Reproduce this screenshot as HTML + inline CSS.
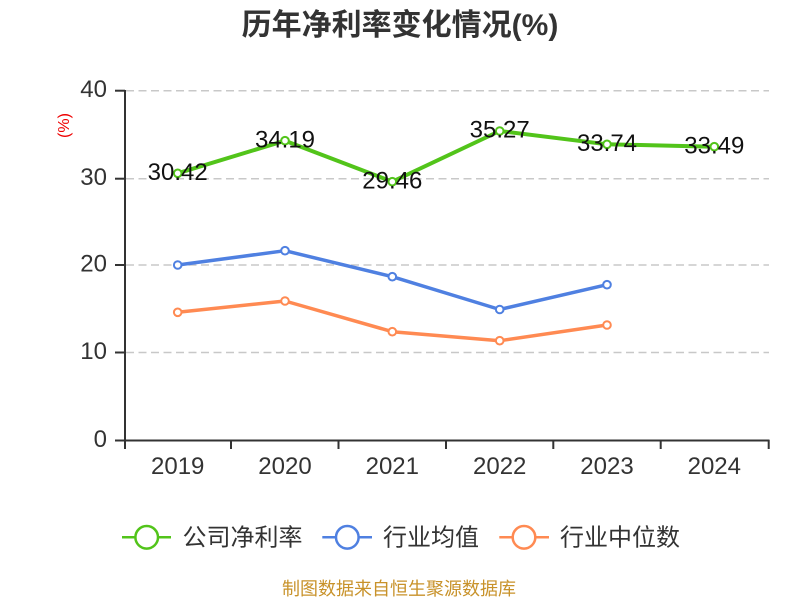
<!DOCTYPE html>
<html>
<head>
<meta charset="utf-8">
<style>
html,body{margin:0;padding:0;background:#fff;}
svg{display:block;}
text{font-family:"Liberation Sans","Noto Sans CJK SC",sans-serif;}
</style>
</head>
<body>
<svg width="800" height="600" viewBox="0 0 800 600" xmlns="http://www.w3.org/2000/svg">
  <rect width="800" height="600" fill="#fff"/>
  <!-- title -->
  <text x="400" y="35" text-anchor="middle" font-size="30" font-weight="bold" fill="#333">历年净利率变化情况(%)</text>
  <!-- y label -->
  <text x="0" y="0" transform="translate(69,125.5) rotate(-90)" text-anchor="middle" font-size="16" fill="#e00">(%)</text>

  <!-- grid -->
  <g stroke="#c8c8c8" stroke-width="1.5" stroke-dasharray="8,4.5">
    <line x1="126" y1="90.7" x2="769" y2="90.7"/>
    <line x1="126" y1="178.7" x2="769" y2="178.7"/>
    <line x1="126" y1="265" x2="769" y2="265"/>
    <line x1="126" y1="352.5" x2="769" y2="352.5"/>
  </g>

  <!-- axes -->
  <g stroke="#333" stroke-width="2" fill="none">
    <line x1="125" y1="90" x2="125" y2="441"/>
    <line x1="124" y1="440.5" x2="769.5" y2="440.5"/>
    <line x1="115" y1="90.7" x2="125" y2="90.7"/>
    <line x1="115" y1="178.7" x2="125" y2="178.7"/>
    <line x1="115" y1="265" x2="125" y2="265"/>
    <line x1="115" y1="352.5" x2="125" y2="352.5"/>
    <line x1="115" y1="440.5" x2="125" y2="440.5"/>
    <line x1="125" y1="440" x2="125" y2="449"/>
    <line x1="231" y1="440" x2="231" y2="449"/>
    <line x1="338.5" y1="440" x2="338.5" y2="449"/>
    <line x1="446" y1="440" x2="446" y2="449"/>
    <line x1="553.3" y1="440" x2="553.3" y2="449"/>
    <line x1="660.7" y1="440" x2="660.7" y2="449"/>
    <line x1="768.7" y1="440" x2="768.7" y2="449"/>
  </g>

  <!-- y tick labels -->
  <g font-size="24" fill="#333" text-anchor="end">
    <text x="107" y="97">40</text>
    <text x="107" y="185">30</text>
    <text x="107" y="271.5">20</text>
    <text x="107" y="359">10</text>
    <text x="107" y="447">0</text>
  </g>
  <!-- x tick labels -->
  <g font-size="24" fill="#333" text-anchor="middle">
    <text x="177.7" y="474">2019</text>
    <text x="285" y="474">2020</text>
    <text x="392.3" y="474">2021</text>
    <text x="499.7" y="474">2022</text>
    <text x="607" y="474">2023</text>
    <text x="714.3" y="474">2024</text>
  </g>

  <!-- orange series -->
  <polyline fill="none" stroke="#ff8a52" stroke-width="3.5" stroke-linejoin="round"
    points="177.7,312.3 285,301 392.3,331.7 499.7,340.7 607,325"/>
  <g fill="#fff" stroke="#ff8a52" stroke-width="2">
    <circle cx="177.7" cy="312.3" r="3.8"/>
    <circle cx="285" cy="301" r="3.8"/>
    <circle cx="392.3" cy="331.7" r="3.8"/>
    <circle cx="499.7" cy="340.7" r="3.8"/>
    <circle cx="607" cy="325" r="3.8"/>
  </g>

  <!-- blue series -->
  <polyline fill="none" stroke="#4f80e1" stroke-width="3.5" stroke-linejoin="round"
    points="177.7,265 285,250.7 392.3,276.7 499.7,309.5 607,284.7"/>
  <g fill="#fff" stroke="#4f80e1" stroke-width="2">
    <circle cx="177.7" cy="265" r="3.8"/>
    <circle cx="285" cy="250.7" r="3.8"/>
    <circle cx="392.3" cy="276.7" r="3.8"/>
    <circle cx="499.7" cy="309.5" r="3.8"/>
    <circle cx="607" cy="284.7" r="3.8"/>
  </g>

  <!-- green series -->
  <polyline fill="none" stroke="#52c41a" stroke-width="4" stroke-linejoin="round"
    points="177.7,173.3 285,140.7 392.3,181.7 499.7,131 607,144.3 714.3,146.7"/>
  <g fill="#fff" stroke="#52c41a" stroke-width="2">
    <circle cx="177.7" cy="173.3" r="3.8"/>
    <circle cx="285" cy="140.7" r="3.8"/>
    <circle cx="392.3" cy="181.7" r="3.8"/>
    <circle cx="499.7" cy="131" r="3.8"/>
    <circle cx="607" cy="144.3" r="3.8"/>
    <circle cx="714.3" cy="146.7" r="3.8"/>
  </g>
  <g font-size="24" fill="#111" text-anchor="middle">
    <text x="177.7" y="180">30.42</text>
    <text x="285" y="147.4">34.19</text>
    <text x="392.3" y="188.4">29.46</text>
    <text x="499.7" y="137.7">35.27</text>
    <text x="607" y="151">33.74</text>
    <text x="714.3" y="153.4">33.49</text>
  </g>

  <!-- legend -->
  <g stroke-width="2.5" fill="#fff">
    <line x1="122" y1="537.3" x2="171" y2="537.3" stroke="#52c41a"/>
    <circle cx="146.7" cy="537.3" r="11.3" stroke="#52c41a"/>
    <line x1="322.3" y1="537.3" x2="372" y2="537.3" stroke="#4f80e1"/>
    <circle cx="347.3" cy="537.3" r="11.3" stroke="#4f80e1"/>
    <line x1="499.3" y1="537.3" x2="549" y2="537.3" stroke="#ff8a52"/>
    <circle cx="524" cy="537.3" r="11.3" stroke="#ff8a52"/>
  </g>
  <g font-size="24" fill="#333">
    <text x="182.5" y="545.5">公司净利率</text>
    <text x="383" y="545.5">行业均值</text>
    <text x="560" y="545.5">行业中位数</text>
  </g>

  <!-- footer -->
  <text x="399" y="595" text-anchor="middle" font-size="18" fill="#c8922a">制图数据来自恒生聚源数据库</text>
</svg>
</body>
</html>
